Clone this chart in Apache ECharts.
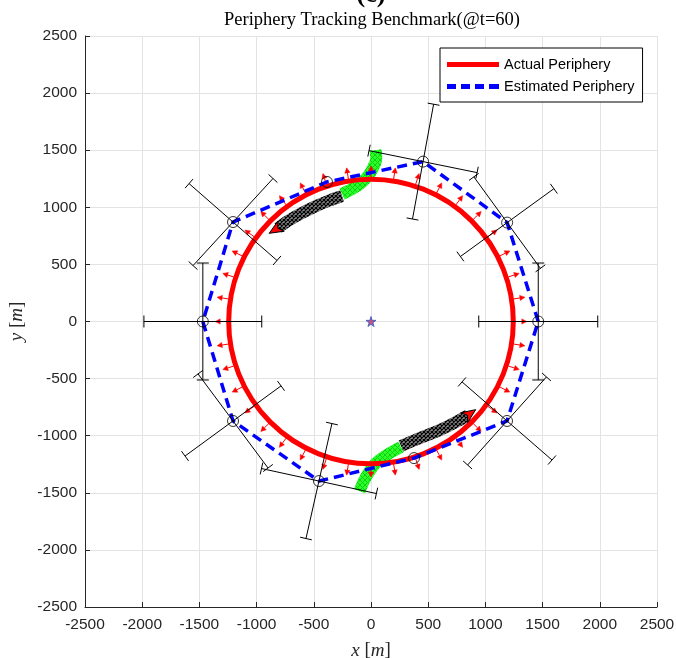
<!DOCTYPE html>
<html>
<head>
<meta charset="utf-8">
<script src="https://cdn.jsdelivr.net/npm/echarts@6/dist/echarts.min.js"></script>
<style>
  html, body { margin: 0; padding: 0; background: #ffffff; }
  #chart { width: 676px; height: 658px; }
</style>
</head>
<body>
<div id="chart"></div>
<script>
// ---- axis ticks (metres) ----
const tickValues = [-2500, -2000, -1500, -1000, -500, 0, 500, 1000, 1500, 2000, 2500];

// ---- actual periphery: circle around the origin ----
const actualCenter = [0, 0];
const actualRadius = 1245;

// ---- outer sensing agents and their uncertainty bars ----
const agentX = [1462, 1190, 455, -1206, -1470, -1206, -455, 1189];
const agentY = [0, 866, 1400, 871, 0, -871, -1397, -871];
const barAngleA = [0, 36, 79.6, 138.8, 0, 36.2, 77.3, -41];
const barHalfA = [520, 505, 511, 511, 515, 520, 516, 521];
const barAngleB = [90, 126, -11.5, 47.5, 90, -53.4, -12.3, 48.2];
const barHalfB = [512, 495, 482, 517, 512, 513, 514, 517];

// ---- tracking agents sitting on the periphery ----
const trackerX = [-385, 376];
const trackerY = [1222, -1196];

// ---- estimated periphery (closed polygon through the agents) ----
const estX = [1462, 1190, 455, -385, -1206, -1470, -1206, -455, 376, 1189, 1462];
const estY = [0, 866, 1400, 1222, 871, 0, -871, -1397, -1196, -871, 0];

// ---- outward gradient arrows along the actual periphery ----
const arrowAngles = [0, 9, 18, 27, 36, 45, 54, 63, 72, 81, 90, 99, 108, 117, 126, 135, 144, 153, 162, 171,
                     180, 189, 198, 207, 216, 225, 234, 243, 252, 261, 270, 279, 288, 297, 306, 315, 324, 333, 342, 351];
const arrowStart = 1262;
const arrowLength = 100;

// ---- tracker trajectories ----
const topApproachX = [40, 44, 17, -26, -87, -166, -253];
const topApproachY = [1500, 1414, 1344, 1274, 1213, 1160, 1116];
const topTrackX = [-253, -376, -498, -621, -726, -813];
const topTrackY = [1099, 1055, 1003, 941, 880, 819];
const bottomApproachX = [-100, -44, 44, 166, 262];
const bottomApproachY = [-1486, -1362, -1239, -1152, -1099];
const bottomTrackX = [262, 428, 603, 743, 848];
const bottomTrackY = [-1090, -1020, -950, -880, -819];
const headTipX = [-890, 915];
const headTipY = [772, -772];

// ---- centre of the periphery ----
const centreX = [0];
const centreY = [0];

// small hatched textures for the trajectory bands
function crossPattern(bg, fg, size, lw) {
  const c = document.createElement('canvas');
  c.width = size; c.height = size;
  const g = c.getContext('2d');
  if (bg) { g.fillStyle = bg; g.fillRect(0, 0, size, size); }
  g.strokeStyle = fg; g.lineWidth = lw;
  g.beginPath();
  g.moveTo(0, 0); g.lineTo(size, size);
  g.moveTo(size, 0); g.lineTo(0, size);
  g.stroke();
  return { image: c, repeat: 'repeat' };
}
const greenTexture = crossPattern('#2bff2b', '#10d010', 5, 1);
const blackTexture = crossPattern('#8a8a8a', '#000000', 4, 1.2);

const trailSets = [
  { x: topApproachX, y: topApproachY, tex: greenTexture },
  { x: bottomApproachX, y: bottomApproachY, tex: greenTexture },
  { x: topTrackX, y: topTrackY, tex: blackTexture },
  { x: bottomTrackX, y: bottomTrackY, tex: blackTexture }
];
const headFrom = [
  [topTrackX[topTrackX.length - 1], topTrackY[topTrackY.length - 1]],
  [bottomTrackX[bottomTrackX.length - 1], bottomTrackY[bottomTrackY.length - 1]]
];

const CAP = 6;
function barWithCaps(api, cx, cy, angDeg, half) {
  const a = angDeg * Math.PI / 180;
  const p1 = api.coord([cx - half * Math.cos(a), cy - half * Math.sin(a)]);
  const p2 = api.coord([cx + half * Math.cos(a), cy + half * Math.sin(a)]);
  const dx = p2[0] - p1[0], dy = p2[1] - p1[1];
  const L = Math.hypot(dx, dy) || 1;
  const nx = -dy / L * CAP, ny = dx / L * CAP;
  const st = { stroke: '#000000', lineWidth: 1 };
  return [
    { type: 'line', shape: { x1: p1[0], y1: p1[1], x2: p2[0], y2: p2[1] }, style: st },
    { type: 'line', shape: { x1: p1[0] - nx, y1: p1[1] - ny, x2: p1[0] + nx, y2: p1[1] + ny }, style: st },
    { type: 'line', shape: { x1: p2[0] - nx, y1: p2[1] - ny, x2: p2[0] + nx, y2: p2[1] + ny }, style: st }
  ];
}

const serifFont = '"Liberation Serif", "DejaVu Serif", serif';
const sansFont = '"Liberation Sans", Arial, sans-serif';

const chart = echarts.init(document.getElementById('chart'), null, { renderer: 'canvas' });

const option = {
  animation: false,
  backgroundColor: '#ffffff',
  grid: { left: 85, right: 19, top: 36, bottom: 51, containLabel: false, outerBoundsMode: 'none' },
  graphic: [
    { type: 'text', x: 371, y: 8, z: 10,
      style: { text: '(c)', font: 'bold 26px ' + serifFont, fill: '#000', align: 'center', verticalAlign: 'bottom' } },
    { type: 'text', x: 372, y: 20, z: 10,
      style: { text: 'Periphery Tracking Benchmark(@t=60)', font: '18.5px ' + serifFont, fill: '#000', align: 'center', verticalAlign: 'middle' } }
  ],
  legend: {
    orient: 'vertical',
    left: 440, top: 48,
    padding: [9, 8, 8, 7],
    itemGap: 7,
    itemWidth: 52, itemHeight: 5,
    backgroundColor: '#ffffff',
    borderColor: '#000000', borderWidth: 1, borderRadius: 0,
    textStyle: { fontFamily: sansFont, fontSize: 14.5, color: '#000000' },
    data: [
      { name: 'Actual Periphery', icon: 'path://M0,0h52v5h-52z' },
      { name: 'Estimated Periphery', icon: 'path://M0,0h9v5h-9zM14,0h9v5h-9zM28,0h9v5h-9zM42,0h10v5h-10z' }
    ]
  },
  xAxis: {
    type: 'value', min: -2500, max: 2500, interval: 500,
    name: '{i|x} [{i|m}]', nameLocation: 'middle', nameGap: 34,
    nameTextStyle: { fontFamily: serifFont, fontSize: 19, color: '#262626',
      rich: { i: { fontFamily: serifFont, fontStyle: 'italic', fontSize: 19, color: '#262626' } } },
    axisLine: { show: true, onZero: false, lineStyle: { color: '#262626', width: 1 } },
    axisTick: { show: true, inside: true, length: 5, lineStyle: { color: '#262626' } },
    axisLabel: { fontFamily: sansFont, fontSize: 15.5, color: '#262626', margin: 10,
      formatter: v => tickValues.includes(v) ? String(v) : '' },
    splitLine: { show: true, lineStyle: { color: '#e3e3e3', width: 1 } }
  },
  yAxis: {
    type: 'value', min: -2500, max: 2500, interval: 500,
    name: '{i|y} [{i|m}]', nameLocation: 'middle', nameGap: 58, nameRotate: 90,
    nameTextStyle: { fontFamily: serifFont, fontSize: 19, color: '#262626',
      rich: { i: { fontFamily: serifFont, fontStyle: 'italic', fontSize: 19, color: '#262626' } } },
    axisLine: { show: true, onZero: false, lineStyle: { color: '#262626', width: 1 } },
    axisTick: { show: true, inside: true, length: 5, lineStyle: { color: '#262626' } },
    axisLabel: { fontFamily: sansFont, fontSize: 15.5, color: '#262626', margin: 8,
      formatter: v => tickValues.includes(v) ? String(v) : '' },
    splitLine: { show: true, lineStyle: { color: '#e3e3e3', width: 1 } }
  },
  series: [
    // trajectory bands of the two trackers
    {
      name: 'trajectories', type: 'custom', z: 2, silent: true,
      data: trailSets.map(t => [t.x[0], t.y[0]]),
      encode: { x: 0, y: 1 },
      renderItem(params, api) {
        const t = trailSets[params.dataIndex];
        const pts = t.x.map((x, i) => api.coord([x, t.y[i]]));
        return { type: 'polyline', shape: { points: pts, smooth: 0.35 },
          style: { stroke: t.tex, lineWidth: 12, fill: null, lineJoin: 'round', lineCap: 'butt' } };
      }
    },
    // actual periphery
    {
      name: 'Actual Periphery', type: 'custom', z: 3, silent: true,
      itemStyle: { color: '#ff0000' },
      data: [[actualCenter[0], actualCenter[1], actualRadius]],
      encode: { x: 0, y: 1 },
      renderItem(params, api) {
        const c = api.coord([api.value(0), api.value(1)]);
        const r = api.size([api.value(2), api.value(2)]);
        return { type: 'circle', shape: { cx: c[0], cy: c[1], r: (r[0] + r[1]) / 2 },
          style: { stroke: '#ff0000', lineWidth: 5, fill: null } };
      }
    },
    // outward arrows
    {
      name: 'gradient', type: 'custom', z: 4, silent: true,
      data: arrowAngles.map(a => [a, arrowStart, arrowLength]),
      encode: { x: 1, y: 1 },
      renderItem(params, api) {
        const a = api.value(0) * Math.PI / 180;
        const r0 = api.value(1), len = api.value(2);
        const p0 = api.coord([r0 * Math.cos(a), r0 * Math.sin(a)]);
        const p1 = api.coord([(r0 + len) * Math.cos(a), (r0 + len) * Math.sin(a)]);
        const dx = p1[0] - p0[0], dy = p1[1] - p0[1];
        const L = Math.hypot(dx, dy) || 1;
        const ux = dx / L, uy = dy / L;
        const hl = 5, hw = 2.6;
        const bx = p1[0] - ux * hl, by = p1[1] - uy * hl;
        return { type: 'group', children: [
          { type: 'line', shape: { x1: p0[0], y1: p0[1], x2: bx, y2: by }, style: { stroke: '#ff0000', lineWidth: 1 } },
          { type: 'polygon', shape: { points: [[p1[0], p1[1]], [bx - uy * hw, by + ux * hw], [bx + uy * hw, by - ux * hw]] },
            style: { fill: '#ff0000', stroke: '#ff0000', lineWidth: 0.5 } }
        ] };
      }
    },
    // estimated periphery
    {
      name: 'Estimated Periphery', type: 'custom', z: 5, silent: true,
      itemStyle: { color: '#0000ff' },
      data: estX.map((x, i) => [x, estY[i]]),
      encode: { x: 0, y: 1 },
      renderItem(params, api) {
        if (params.dataIndex !== 0) return null;
        const pts = estX.map((x, i) => api.coord([x, estY[i]]));
        return { type: 'polyline', shape: { points: pts },
          style: { stroke: '#0000ff', lineWidth: 3.5, fill: null, lineDash: [10, 6], lineJoin: 'miter' } };
      }
    },
    // arrow heads at the end of the tracked trajectories
    {
      name: 'heads', type: 'custom', z: 6, silent: true,
      data: headTipX.map((x, i) => [x, headTipY[i], headFrom[i][0], headFrom[i][1]]),
      encode: { x: 0, y: 1 },
      renderItem(params, api) {
        const tip = api.coord([api.value(0), api.value(1)]);
        const from = api.coord([api.value(2), api.value(3)]);
        const dx = tip[0] - from[0], dy = tip[1] - from[1];
        const L = Math.hypot(dx, dy) || 1;
        const ux = dx / L, uy = dy / L;
        const hl = 14, hw = 6;
        const bx = tip[0] - ux * hl, by = tip[1] - uy * hl;
        const nx = bx + ux * 4, ny = by + uy * 4;
        return { type: 'polygon',
          shape: { points: [[tip[0], tip[1]], [bx - uy * hw, by + ux * hw], [nx, ny], [bx + uy * hw, by - ux * hw]] },
          style: { fill: '#ff0000', stroke: '#000000', lineWidth: 1 } };
      }
    },
    // uncertainty bars of the outer agents
    {
      name: 'uncertainty', type: 'custom', z: 7, silent: true,
      data: agentX.map((x, i) => [x, agentY[i], barAngleA[i], barHalfA[i], barAngleB[i], barHalfB[i]]),
      encode: { x: 0, y: 1 },
      renderItem(params, api) {
        const cx = api.value(0), cy = api.value(1);
        return { type: 'group', children: [
          ...barWithCaps(api, cx, cy, api.value(2), api.value(3)),
          ...barWithCaps(api, cx, cy, api.value(4), api.value(5))
        ] };
      }
    },
    // agents
    {
      name: 'agents', type: 'scatter', z: 8, silent: true,
      symbol: 'circle', symbolSize: 11,
      itemStyle: { color: 'rgba(0,0,0,0)', borderColor: '#000000', borderWidth: 1 },
      data: agentX.map((x, i) => [x, agentY[i]]).concat(trackerX.map((x, i) => [x, trackerY[i]]))
    },
    // centre marker
    {
      name: 'centre', type: 'scatter', z: 9, silent: true,
      symbol: 'path://M50,0 L61,35 L98,35 L68,57 L79,91 L50,70 L21,91 L32,57 L2,35 L39,35 Z',
      symbolSize: 10,
      itemStyle: { color: '#b0306a', borderColor: '#2f55c8', borderWidth: 1 },
      data: centreX.map((x, i) => [x, centreY[i]])
    }
  ]
};

chart.setOption(option);
</script>
</body>
</html>
